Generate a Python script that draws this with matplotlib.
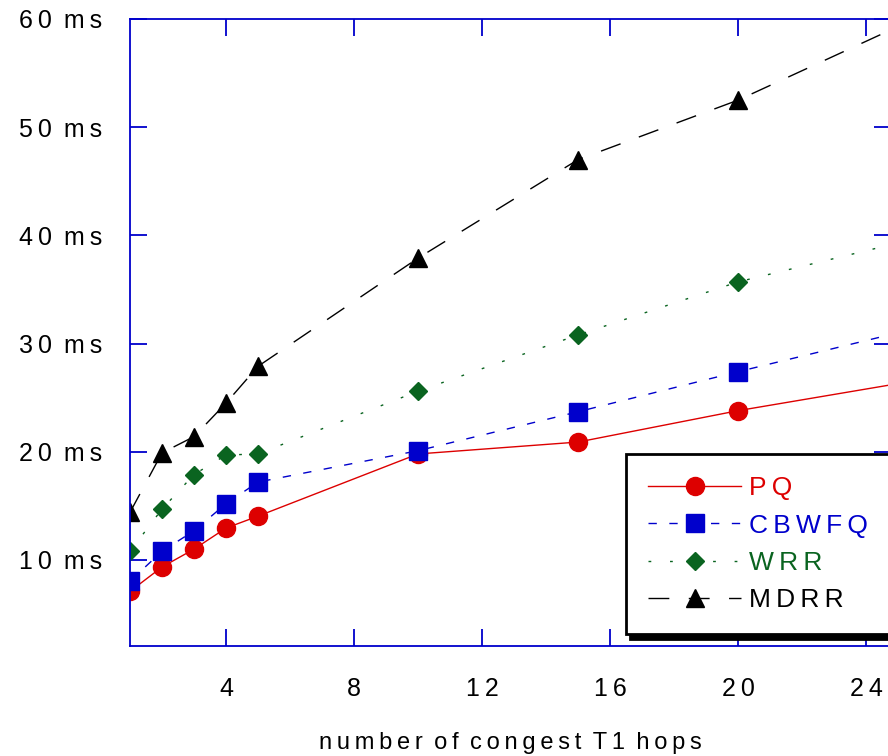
import numpy as np
import matplotlib
matplotlib.use("Agg")
import matplotlib.pyplot as plt

plt.rcParams['font.family'] = ['Liberation Sans', 'DejaVu Sans']

# hops on the x axis
hops = [1, 2, 3, 4, 5, 10, 15, 20, 25]

# delay in ms for each scheduler
pq = [7.1, 9.35, 11.0, 12.95, 14.05, 19.8, 20.9, 23.8, 26.3]
cbwfq = [8.05, 10.8, 12.7, 15.2, 17.2, 20.1, 23.7, 27.4, 31.0]
wrr = [10.8, 14.7, 17.9, 19.7, 19.8, 25.6, 30.8, 35.7, 39.3]
mdrr = [14.4, 19.9, 21.4, 24.5, 27.9, 37.9, 47.0, 52.5, 59.3]

names = ["PQ", "CBWFQ", "WRR", "MDRR"]
xticks = [4, 8, 12, 16, 20, 24]
yticks = [10, 20, 30, 40, 50, 60]


def spaced(s):
    # the original text has wide letter spacing
    words = ["\u2009".join(w) for w in s.split(" ")]
    return " \u2009".join(words)


axis_blue = "#0000cc"
red = "#dd0000"
blue = "#0000cc"
green = "#0a6420"

fig = plt.figure(figsize=(8.88, 7.56), dpi=100)
ax = fig.add_axes([130/888, 110/756, 761/888, 627/756])

ax.plot(hops, pq, color=red, lw=1, marker="o", ms=13, mec=red,
        label=spaced(names[0]))
ax.plot(hops, cbwfq, color=blue, lw=1, ls=(0, (6, 9)), marker="s", ms=13,
        mec=blue, label=spaced(names[1]))
ax.plot(hops, wrr, color=green, lw=1, ls=(0, (2, 13.5)), marker="D", ms=9,
        mec=green, label=spaced(names[2]))
ax.plot(hops, mdrr, color="black", lw=1, ls=(0, (15, 14)), marker="^", ms=13,
        mec="black", label=spaced(names[3]))

ax.set_xlim(1, 24.78)
ax.set_ylim(2.05, 60)
ax.set_xticks(xticks)
ax.set_xticklabels([spaced(str(v)) for v in xticks])
ax.set_yticks(yticks)
ax.set_yticklabels([spaced("%d ms" % v) for v in yticks])

for s in ax.spines.values():
    s.set_color(axis_blue)
    s.set_linewidth(1.3)

ax.tick_params(direction="in", length=12, width=1.3, color=axis_blue,
               top=True, right=True, labelsize=18)
ax.tick_params(axis="x", pad=22)
ax.tick_params(axis="y", pad=20)

ax.set_xlabel(spaced("number of congest T1 hops"), fontsize=17, labelpad=23)

leg = ax.legend(loc="upper left", bbox_to_anchor=(496/761, 192/627),
                borderaxespad=0, fontsize=19, frameon=True, fancybox=False,
                shadow={"ox": 3, "oy": -3, "color": "black", "alpha": 1},
                edgecolor="black", handlelength=3.5, borderpad=0.85,
                labelspacing=0.5, handletextpad=0.3)
leg.get_frame().set_linewidth(2)
for t, c in zip(leg.get_texts(), [red, blue, green, "black"]):
    t.set_color(c)

fig.savefig("out.png", dpi=100)
